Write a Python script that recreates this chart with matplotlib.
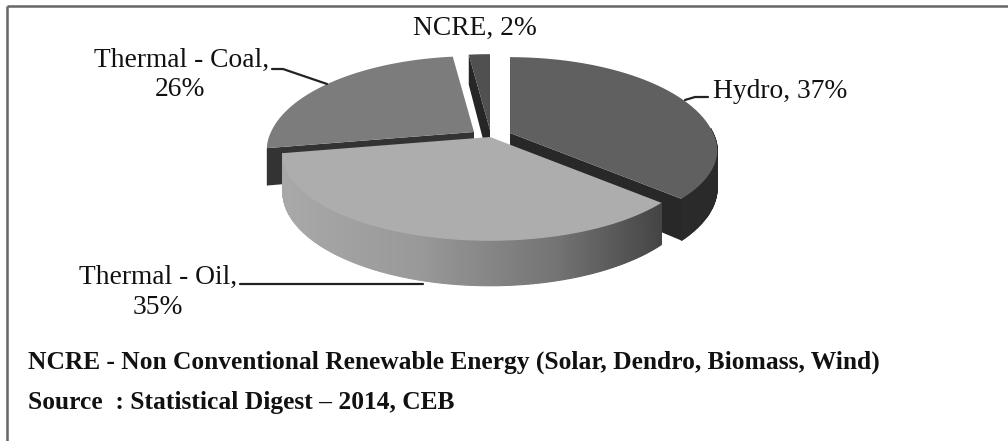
import numpy as np
import matplotlib
matplotlib.use("Agg")
import matplotlib.pyplot as plt

categories = ["Hydro", "Thermal - Oil", "Thermal - Coal", "NCRE"]
shares = [37, 35, 26, 2]
note_lines = ["NCRE - Non Conventional Renewable Energy (Solar, Dendro, Biomass, Wind)",
              "Source  : Statistical Digest \u2013 2014, CEB"]

# style: apex position of each exploded slice, and colours
apex = {"Hydro": (510, 133), "Thermal - Oil": (490, 137), "Thermal - Coal": (474, 132), "NCRE": (490, 130)}
top_col = {"Hydro": "#606060", "Thermal - Oil": "#adadad", "Thermal - Coal": "#7c7c7c", "NCRE": "#505050"}
cut_col = {"Hydro": "#282828", "Thermal - Coal": "#333333", "NCRE": "#262626"}
cut_edge = {"Hydro": 1, "Thermal - Coal": 0, "NCRE": 0}
R, K_BACK, K_FRONT, P, DEPTH = 203.0, 91.0, 83.0, 0.2, 36.0

fig = plt.figure(figsize=(10.08, 4.41), dpi=100)
ax = fig.add_axes([0, 0, 1, 1])
ax.set_xlim(0, 1008)
ax.set_ylim(441, 0)
ax.axis("off")
serif = "Liberation Serif"

border = dict(color="#666666", lw=1.8, zorder=1, solid_capstyle="butt")
ax.plot([7, 7], [441, 6], **border)
ax.plot([7, 1008], [6, 6], **border)


def proj(theta, ap):
    t = np.radians(theta)
    X, Y = np.sin(t), np.cos(t)
    w = 1 + P * Y
    k = np.where(Y > 0, K_BACK, K_FRONT)
    return ap[0] + R * X / w, ap[1] - k * Y / w, DEPTH / w


def wall_shade(x):
    return np.interp(x, [285, 420, 560, 660], [0.66, 0.60, 0.45, 0.27])


edges = np.cumsum([0] + shares) * 3.6
spans = {c: (edges[i], edges[i + 1]) for i, c in enumerate(categories)}

for name in ["NCRE", "Thermal - Coal", "Hydro", "Thermal - Oil"]:
    a, b = spans[name]
    ap = apex[name]
    th = np.linspace(a, b, 160)
    x, y, d = proj(th, ap)
    if name in cut_col:
        e = (a, b)[cut_edge[name]]
        ex, ey, ed = proj(e, ap)
        ax.fill([ap[0], ex, ex, ap[0]], [ap[1], ey, ey + ed, ap[1] + DEPTH],
                color=cut_col[name], lw=0, zorder=2)
    if name in ("Hydro", "Thermal - Oil"):
        for i in range(len(th) - 1):
            if np.cos(np.radians((th[i] + th[i + 1]) / 2)) > 0.05:
                continue
            xs = [x[i], x[i + 1], x[i + 1], x[i]]
            ys = [y[i], y[i + 1], y[i + 1] + d[i + 1], y[i] + d[i]]
            col = str(float(wall_shade(x[i]))) if name == "Thermal - Oil" else "#2a2a2a"
            ax.fill(xs, ys, facecolor=col, edgecolor=col, lw=0.8, zorder=2)
    ax.fill(np.r_[ap[0], x], np.r_[ap[1], y], color=top_col[name], lw=0, zorder=2)

lab = dict(family=serif, fontsize=19.8, color="#111111", ha="center", va="center", zorder=5)
ax.text(475, 28, f"NCRE, {shares[3]}%", **lab)
ax.text(780, 91, f"Hydro, {shares[0]}%", **lab)
ax.text(182, 60, "Thermal - Coal,", **lab)
ax.text(180, 90, f"{shares[2]}%", **lab)
ax.text(158, 277, "Thermal - Oil,", **lab)
ax.text(158, 307, f"{shares[1]}%", **lab)

lead = dict(color="#222222", lw=1.6, zorder=4, solid_capstyle="round")
ax.plot([685, 695, 708], [100, 97, 97], **lead)
ax.plot([272, 283, 327], [69, 69, 84], **lead)
ax.plot([240, 423], [284, 284], **lead)

ax.text(28, 362, note_lines[0], family=serif, fontsize=18.4, fontweight="bold", color="#111111", va="center")
ax.text(28, 403, note_lines[1], family=serif, fontsize=18.4, fontweight="bold", color="#111111", va="center")

fig.savefig("out.png", dpi=100)
